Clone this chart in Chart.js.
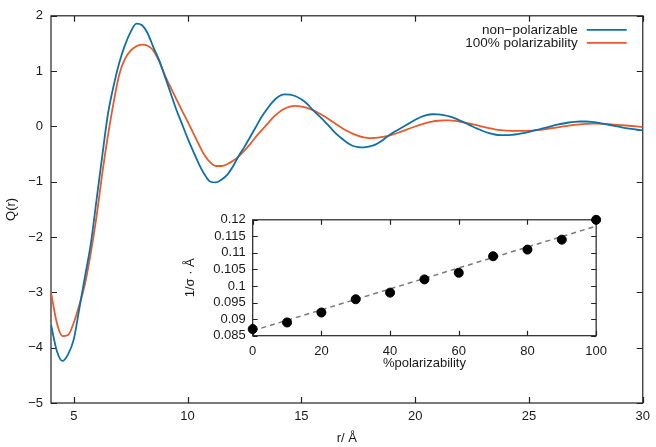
<!DOCTYPE html>
<html><head><meta charset="utf-8">
<script src="https://cdn.jsdelivr.net/npm/chart.js@4"></script>
<style>
html,body{margin:0;padding:0;background:#fff}
#wrap{position:relative;width:656px;height:447px;overflow:hidden}
#main{position:absolute;left:0;top:0}
#inset{position:absolute;left:175px;top:205px}
</style>
</head><body>
<div id="wrap"><canvas id="main" width="656" height="447"></canvas><canvas id="inset" width="440" height="168"></canvas></div>
<script>
// ---- main chart data ----
const r = [4,4.25,4.5,4.75,5,5.25,5.5,5.75,6,6.25,6.5,6.75,7,7.25,7.5,7.75,8,8.25,8.5,8.75,
  9,9.25,9.5,9.75,10,10.25,10.5,10.75,11,11.25,11.5,11.75,12,12.25,12.5,12.75,13,13.25,13.5,13.75,
  14,14.25,14.5,14.75,15,15.25,15.5,15.75,16,16.25,16.5,16.75,17,17.25,17.5,17.75,18,18.25,18.5,18.75,
  19,19.25,19.5,19.75,20,20.25,20.5,20.75,21,21.25,21.5,21.75,22,22.25,22.5,22.75,23,23.25,23.5,23.75,
  24,24.25,24.5,24.75,25,25.25,25.5,25.75,26,26.25,26.5,26.75,27,27.25,27.5,27.75,28,28.25,28.5,28.75,
  29,29.25,29.5,29.75,30];
const qNonPolarizable = [-3.58,-4.05,-4.24,-4.12,-3.85,-3.28,-2.70,-2.12,-1.33,-0.54,0.22,0.73,1.15,1.47,1.71,1.86,1.83,1.68,1.43,1.20,
  0.91,0.61,0.31,0.05,-0.21,-0.45,-0.68,-0.87,-1.0,-1.01,-0.96,-0.87,-0.72,-0.53,-0.37,-0.19,-0.01,0.17,0.32,0.45,
  0.54,0.58,0.575,0.545,0.49,0.41,0.30,0.20,0.10,-0.01,-0.12,-0.21,-0.29,-0.35,-0.375,-0.38,-0.36,-0.33,-0.27,-0.19,
  -0.12,-0.06,0.0,0.06,0.12,0.17,0.205,0.22,0.218,0.204,0.18,0.144,0.10,0.053,0.003,-0.044,-0.087,-0.121,-0.146,-0.158,
  -0.159,-0.153,-0.141,-0.123,-0.10,-0.072,-0.049,-0.021,0.006,0.031,0.053,0.071,0.083,0.089,0.089,0.083,0.07,0.05,0.03,0.01,
  -0.01,-0.03,-0.045,-0.06,-0.07];
const qPolarizable = [-3.0,-3.54,-3.79,-3.77,-3.55,-3.22,-2.83,-2.28,-1.63,-0.86,-0.17,0.43,0.94,1.22,1.37,1.45,1.48,1.46,1.37,1.18,
  0.93,0.71,0.50,0.29,0.09,-0.12,-0.33,-0.52,-0.65,-0.715,-0.715,-0.68,-0.62,-0.54,-0.435,-0.32,-0.19,-0.07,0.04,0.16,
  0.25,0.32,0.36,0.37,0.36,0.335,0.295,0.244,0.183,0.117,0.049,-0.018,-0.079,-0.131,-0.172,-0.199,-0.21,-0.207,-0.195,-0.175,
  -0.147,-0.114,-0.077,-0.038,-0.001,0.034,0.065,0.088,0.103,0.11,0.108,0.099,0.084,0.065,0.042,0.017,-0.009,-0.032,-0.052,-0.068,
  -0.077,-0.08,-0.08,-0.079,-0.077,-0.072,-0.062,-0.048,-0.032,-0.016,0.0,0.014,0.027,0.038,0.045,0.05,0.049,0.045,0.04,0.033,
  0.025,0.017,0.008,0.0,-0.01];
const seriesLabels = ['non\u2212polarizable', '100% polarizability'];
const xTicks = [5,10,15,20,25,30];
const yTicks = [-5,-4,-3,-2,-1,0,1,2];

// ---- inset data ----
const polarizability = [0,10,20,30,40,50,60,70,80,90,100];
const invSigma = [0.087,0.089,0.092,0.096,0.098,0.102,0.104,0.109,0.111,0.114,0.120];
const fitX = [0,100];
const fitY = [0.0865,0.1181];
const insetXTicks = [0,20,40,60,80,100];
const insetYTicks = [0.085,0.09,0.095,0.1,0.105,0.11,0.115,0.12];

const FONT = "'Liberation Sans', Arial, Helvetica, sans-serif";
const TXT = '#1a1a1a';
const BLUE = '#0e70a8';
const ORANGE = '#ea5a28';
const fmtMinus = v => v < 0 ? '\u2212' + Math.abs(v) : String(v);

function framePlugin(id, tickLen){
  return { id, beforeDatasetsDraw(chart){
    const {ctx, chartArea:{left,right,top,bottom}} = chart;
    ctx.save();
    ctx.strokeStyle = '#222'; ctx.lineWidth = 1.2;
    ctx.beginPath();
    chart.scales.x.ticks.forEach(t => {
      const p = Math.round(chart.scales.x.getPixelForValue(t.value)) + 0.5;
      ctx.moveTo(p, bottom); ctx.lineTo(p, bottom - tickLen);
      ctx.moveTo(p, top); ctx.lineTo(p, top + tickLen);
    });
    chart.scales.y.ticks.forEach(t => {
      const p = Math.round(chart.scales.y.getPixelForValue(t.value)) + 0.5;
      ctx.moveTo(left, p); ctx.lineTo(left + tickLen, p);
      ctx.moveTo(right, p); ctx.lineTo(right - tickLen, p);
    });
    ctx.stroke();
    ctx.strokeRect(left, top, right - left, bottom - top);
    ctx.restore();
  }};
}
const whiteBg = { id:'whiteBg', beforeDraw(chart){
  const {ctx, chartArea:{left,right,top,bottom}} = chart;
  ctx.save(); ctx.fillStyle='#fff'; ctx.fillRect(left,top,right-left,bottom-top); ctx.restore();
}};
const legendPlugin = { id:'insideLegend', afterDraw(chart){
  const {ctx, chartArea:{right,top}} = chart;
  ctx.save();
  ctx.font = '13.5px ' + FONT;
  ctx.textAlign = 'right'; ctx.textBaseline = 'middle';
  chart.data.datasets.forEach((ds, i) => {
    const y = top + 14 + i * 13;
    ctx.fillStyle = TXT;
    ctx.fillText(ds.label, right - 65, y);
    ctx.strokeStyle = ds.borderColor; ctx.lineWidth = 1.8;
    ctx.beginPath(); ctx.moveTo(right - 56, y); ctx.lineTo(right - 16, y); ctx.stroke();
  });
  ctx.restore();
}};

new Chart(document.getElementById('main'), {
  type: 'line',
  data: { datasets: [
    { label: seriesLabels[0], data: r.map((x,i)=>({x, y:qNonPolarizable[i]})), borderColor:BLUE, borderWidth:1.8, pointRadius:0, cubicInterpolationMode:'monotone', fill:false },
    { label: seriesLabels[1], data: r.map((x,i)=>({x, y:qPolarizable[i]})), borderColor:ORANGE, borderWidth:1.8, pointRadius:0, cubicInterpolationMode:'monotone', fill:false }
  ]},
  options: {
    responsive:false, devicePixelRatio:1, animation:false,
    layout:{ padding:{ top:8, right:13, left:0, bottom:0 } },
    plugins:{ legend:{display:false}, tooltip:{enabled:false} },
    scales:{
      x:{ type:'linear', min:4, max:30,
        afterBuildTicks: s => { s.ticks = xTicks.map(v=>({value:v})); },
        afterFit: s => { s.height = 44; },
        grid:{display:false, drawTicks:false}, border:{display:false},
        ticks:{ padding:6, color:TXT, font:{family:FONT, size:13}, maxRotation:0, autoSkip:false, callback: v => fmtMinus(v) },
        title:{ display:true, text:'r/ \u00c5', color:TXT, font:{family:FONT, size:13}, padding:{top:0,bottom:1} } },
      y:{ type:'linear', min:-5, max:2,
        afterBuildTicks: s => { s.ticks = yTicks.map(v=>({value:v})); },
        afterFit: s => { s.width = 51; },
        grid:{display:false, drawTicks:false}, border:{display:false},
        ticks:{ padding:8, color:TXT, font:{family:FONT, size:13}, autoSkip:false, callback: v => fmtMinus(v) },
        title:{ display:true, text:'Q(r)', color:TXT, font:{family:FONT, size:13}, padding:{top:4,bottom:0} } }
    }
  },
  plugins:[framePlugin('mainFrame', 6), legendPlugin]
});

new Chart(document.getElementById('inset'), {
  type: 'scatter',
  data: { datasets: [
    { label:'data', data: polarizability.map((x,i)=>({x, y:invSigma[i]})), backgroundColor:'#000', borderColor:'#000', pointRadius:4.5, pointHoverRadius:4.5, showLine:false, clip:false },
    { label:'fit', data: fitX.map((x,i)=>({x, y:fitY[i]})), borderColor:'#7a7a7a', borderWidth:1.5, borderDash:[5,4], pointRadius:0, showLine:true, clip:false }
  ]},
  options: {
    responsive:false, devicePixelRatio:1, animation:false,
    layout:{ padding:{ top:10, right:12.3, left:0, bottom:0 } },
    plugins:{ legend:{display:false}, tooltip:{enabled:false} },
    scales:{
      x:{ type:'linear', min:0, max:100,
        afterBuildTicks: s => { s.ticks = insetXTicks.map(v=>({value:v})); },
        afterFit: s => { s.height = 37.3; },
        grid:{display:false, drawTicks:false}, border:{display:false},
        ticks:{ padding:8, color:TXT, font:{family:FONT, size:13}, maxRotation:0, autoSkip:false, callback: v => String(v) },
        title:{ display:true, text:'%polarizability', color:TXT, font:{family:FONT, size:13}, padding:{top:0,bottom:2.2} } },
      y:{ type:'linear', min:0.085, max:0.12,
        afterBuildTicks: s => { s.ticks = insetYTicks.map(v=>({value:v})); },
        afterFit: s => { s.width = 77.7; },
        grid:{display:false, drawTicks:false}, border:{display:false},
        ticks:{ padding:7, color:TXT, font:{family:FONT, size:13}, autoSkip:false, callback: v => String(Number(v.toFixed(3))) },
        title:{ display:true, text:'1/\u03c3 \u00b7 \u00c5', color:TXT, font:{family:FONT, size:13}, padding:{top:7.2,bottom:0} } }
    }
  },
  plugins:[whiteBg, framePlugin('insetFrame', 5)]
});
</script>
</body></html>
